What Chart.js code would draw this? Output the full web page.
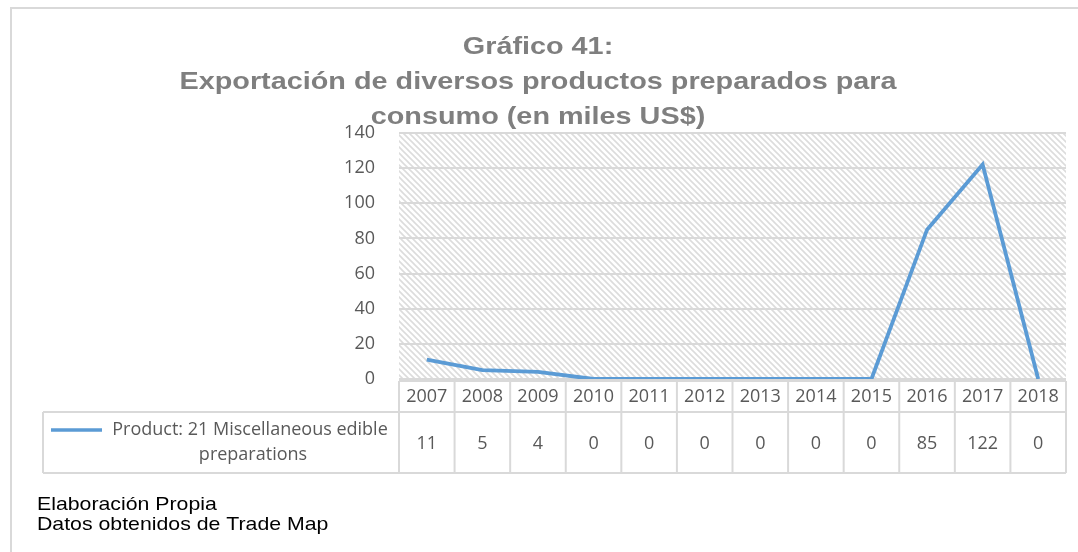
<!DOCTYPE html>
<html>
<head>
<meta charset="utf-8">
<script src="https://cdn.jsdelivr.net/npm/chart.js@4.4.1/dist/chart.umd.min.js"></script>
<style>
  html, body { margin: 0; padding: 0; background: #fff; }
  #wrap { width: 1078px; height: 552px; position: relative; }
</style>
</head>
<body>
<div id="wrap"><canvas id="chart" width="1078" height="552"></canvas></div>
<script>
const years = ["2007", "2008", "2009", "2010", "2011", "2012", "2013", "2014", "2015", "2016", "2017", "2018"];
const exportValues = [11, 5, 4, 0, 0, 0, 0, 0, 0, 85, 122, 0];
const seriesName = ["Product: 21 Miscellaneous edible", "preparations"];
const titleLines = ["Gráfico 41:", "Exportación de diversos productos preparados para", "consumo (en miles US$)"];
const footerLines = ["Elaboración Propia", "Datos obtenidos de Trade Map"];

const lineColor = "#5b9bd5";
const gridColor = "#d9d9d9";
const textGrey = "#595959";

// diagonal hatch used behind the plot
const makeHatch = (ctx) => {
  const tile = document.createElement("canvas");
  tile.width = 6;
  tile.height = 6;
  const t = tile.getContext("2d");
  t.fillStyle = "#fff";
  t.fillRect(0, 0, 6, 6);
  t.strokeStyle = "#dcdcdc";
  t.lineWidth = 1.6;
  t.beginPath();
  t.moveTo(-1, -1); t.lineTo(7, 7);
  t.moveTo(-4, 2); t.lineTo(1, 7);
  t.moveTo(5, -1); t.lineTo(8, 2);
  t.stroke();
  return ctx.createPattern(tile, "repeat");
};

// text drawn a little wider than the font's natural width
const wideText = (ctx, text, x, y, stretch) => {
  ctx.save();
  ctx.translate(x, y);
  ctx.scale(stretch, 1);
  ctx.fillText(text, 0, 0);
  ctx.restore();
};

const extras = {
  id: "extras",
  beforeDraw(chart) {
    const { ctx, chartArea } = chart;
    ctx.save();
    // outer frame
    ctx.strokeStyle = "#d9d9d9";
    ctx.lineWidth = 2;
    ctx.beginPath();
    ctx.moveTo(11, 560);
    ctx.lineTo(11, 8);
    ctx.lineTo(1090, 8);
    ctx.stroke();
    // hatched plot background
    ctx.fillStyle = makeHatch(ctx);
    ctx.fillRect(chartArea.left, chartArea.top, chartArea.right - chartArea.left, chartArea.bottom - chartArea.top);
    // title
    ctx.fillStyle = "#7f7f7f";
    ctx.font = "bold 24px 'Liberation Sans', Arial, sans-serif";
    ctx.textAlign = "center";
    ctx.textBaseline = "alphabetic";
    const titleY = [54, 89, 124];
    titleLines.forEach((line, i) => wideText(ctx, line, 538, titleY[i], 1.2));
    ctx.restore();
  },
  afterDraw(chart) {
    const { ctx, chartArea } = chart;
    const x = chart.scales.x;
    const half = (chartArea.right - chartArea.left) / years.length / 2;
    const top = 381, mid = 412, bottom = 473, legendLeft = 43;
    ctx.save();
    ctx.strokeStyle = gridColor;
    ctx.lineWidth = 2;
    ctx.beginPath();
    ctx.moveTo(chartArea.left, top); ctx.lineTo(chartArea.right, top);
    ctx.moveTo(legendLeft, mid); ctx.lineTo(chartArea.right, mid);
    ctx.moveTo(legendLeft, bottom); ctx.lineTo(chartArea.right, bottom);
    ctx.moveTo(legendLeft, mid); ctx.lineTo(legendLeft, bottom);
    years.forEach((y, i) => {
      const edge = x.getPixelForValue(i) - half;
      ctx.moveTo(edge, top); ctx.lineTo(edge, bottom);
    });
    ctx.moveTo(chartArea.right, top); ctx.lineTo(chartArea.right, bottom);
    ctx.stroke();

    ctx.fillStyle = textGrey;
    ctx.font = "18px 'Open Sans', sans-serif";
    ctx.textAlign = "center";
    ctx.textBaseline = "middle";
    years.forEach((y, i) => {
      const cx = x.getPixelForValue(i);
      ctx.fillText(y, cx, 397);
      ctx.fillText(String(exportValues[i]), cx, 444);
    });

    // legend key in the table
    ctx.strokeStyle = lineColor;
    ctx.lineWidth = 3.5;
    ctx.beginPath();
    ctx.moveTo(51, 430); ctx.lineTo(102, 430);
    ctx.stroke();
    ctx.fillText(seriesName[0], 250, 430);
    ctx.fillText(seriesName[1], 253, 455);

    // source notes
    ctx.fillStyle = "#000";
    ctx.font = "19px 'Liberation Sans', Arial, sans-serif";
    ctx.textAlign = "left";
    ctx.textBaseline = "alphabetic";
    wideText(ctx, footerLines[0], 37, 510, 1.12);
    wideText(ctx, footerLines[1], 37, 530, 1.12);
    ctx.restore();
  }
};

new Chart(document.getElementById("chart"), {
  type: "line",
  data: {
    labels: years,
    datasets: [
      {
        label: seriesName.join(" "),
        data: exportValues,
        borderColor: lineColor,
        borderWidth: 3.8,
        pointRadius: 0,
        tension: 0,
        fill: false,
      },
    ],
  },
  options: {
    responsive: false,
    animation: false,
    layout: { padding: { top: 133, right: 12, bottom: 173, left: 0 } },
    plugins: {
      legend: { display: false },
      title: { display: false },
      tooltip: { enabled: false },
    },
    scales: {
      x: {
        display: false,
        offset: true,
      },
      y: {
        min: 0,
        max: 140,
        afterFit: (scale) => { scale.width = 399; },
        ticks: {
          stepSize: 20,
          padding: 24,
          color: textGrey,
          font: { family: "'Open Sans', sans-serif", size: 18 },
        },
        grid: { color: gridColor, lineWidth: 2, drawTicks: false },
        border: { display: false },
      },
    },
  },
  plugins: [extras],
});
</script>
</body>
</html>
